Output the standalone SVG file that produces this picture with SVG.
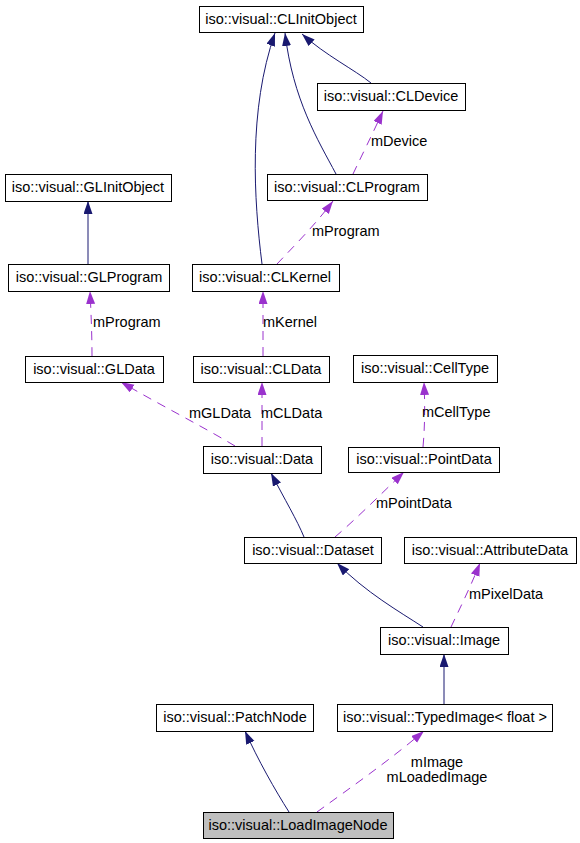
<svg xmlns="http://www.w3.org/2000/svg" width="580" height="843" viewBox="0 0 580 843">
<defs>
<marker id="ah" markerUnits="userSpaceOnUse" markerWidth="14" markerHeight="10" refX="13" refY="4.5" orient="auto" viewBox="0 0 14 10"><path d="M0,0 L13,4.5 L0,9 z" fill="#191970"/></marker>
<marker id="ap" markerUnits="userSpaceOnUse" markerWidth="14" markerHeight="10" refX="13" refY="4.5" orient="auto" viewBox="0 0 14 10"><path d="M0,0 L13,4.5 L0,9 z" fill="#9a32cd"/></marker>
</defs>
<style>
rect{fill:#fff;stroke:#000;stroke-width:1}
text{font-family:"Liberation Sans",Arial,sans-serif;font-size:14.5px;fill:#000}
.n text{text-anchor:middle}
.inh{fill:none;stroke:#191970;stroke-width:1;marker-end:url(#ah)}
.use{fill:none;stroke:#9a32cd;stroke-width:1;stroke-dasharray:9,7;marker-end:url(#ap)}
</style>
<rect x="0" y="0" width="580" height="843" style="fill:#fff;stroke:none"/>
<g id="connectors">
<path class="inh" d="M262,264 C254,200 248,110 275,33"/>
<path class="inh" d="M336,174 C318,140 293,100 285,33"/>
<path class="inh" d="M371,83 C355,70 325,55 302,34"/>
<path class="use" d="M353,174 C362,155 372,135 383,111"/>
<text x="371" y="146">mDevice</text>
<path class="use" d="M277,264 C295,245 315,225 333,201"/>
<text x="312" y="236">mProgram</text>
<path class="inh" d="M88,264 L88,201"/>
<path class="use" d="M92,356 C92,335 91,312 90,291"/>
<text x="93" y="327">mProgram</text>
<path class="use" d="M263,356 L263,291"/>
<text x="263" y="327">mKernel</text>
<path class="use" d="M235,446 C200,425 160,405 121,382"/>
<text x="189" y="418">mGLData</text>
<path class="use" d="M262,446 L262,382"/>
<text x="261" y="418">mCLData</text>
<path class="use" d="M423,447 C425,425 425,405 424,382"/>
<text x="422" y="417">mCellType</text>
<path class="inh" d="M304,537 C297,520 285,500 271,473"/>
<path class="use" d="M335,537 C355,520 380,495 404,472"/>
<text x="376" y="508">mPointData</text>
<path class="inh" d="M423,627 C400,612 365,592 337,563"/>
<path class="use" d="M451,627 C460,608 470,588 480,563"/>
<text x="469" y="599">mPixelData</text>
<path class="inh" d="M444,704 L444,654"/>
<path class="inh" d="M289,812 C275,790 258,760 245,731"/>
<path class="use" d="M317,812 C350,788 390,760 424,731"/>
<text x="437" y="767" style="text-anchor:middle">mImage</text>
<text x="437" y="782" style="text-anchor:middle">mLoadedImage</text>
</g>
<g class="n" id="CLInitObject"><rect x="199.5" y="6.5" width="164" height="26"/><text x="281" y="24">iso::visual::CLInitObject</text></g>
<g class="n" id="CLDevice"><rect x="317.5" y="83.5" width="148" height="27"/><text x="391" y="101">iso::visual::CLDevice</text></g>
<g class="n" id="CLProgram"><rect x="267.5" y="174.5" width="160" height="26"/><text x="347" y="192">iso::visual::CLProgram</text></g>
<g class="n" id="CLKernel"><rect x="192.5" y="264.5" width="147" height="27"/><text x="265" y="282">iso::visual::CLKernel</text></g>
<g class="n" id="GLInitObject"><rect x="5.5" y="174.5" width="166" height="27"/><text x="88" y="192">iso::visual::GLInitObject</text></g>
<g class="n" id="GLProgram"><rect x="8.5" y="264.5" width="161" height="27"/><text x="89" y="282">iso::visual::GLProgram</text></g>
<g class="n" id="GLData"><rect x="25.5" y="356.5" width="138" height="26"/><text x="94" y="374">iso::visual::GLData</text></g>
<g class="n" id="CLData"><rect x="193.5" y="356.5" width="136" height="26"/><text x="261" y="374">iso::visual::CLData</text></g>
<g class="n" id="Data"><rect x="203.5" y="446.5" width="118" height="27"/><text x="262" y="464">iso::visual::Data</text></g>
<g class="n" id="CellType"><rect x="353.5" y="355.5" width="144" height="27"/><text x="425" y="373">iso::visual::CellType</text></g>
<g class="n" id="PointData"><rect x="348.5" y="447.5" width="151" height="25"/><text x="424" y="464">iso::visual::PointData</text></g>
<g class="n" id="Dataset"><rect x="244.5" y="537.5" width="137" height="26"/><text x="313" y="555">iso::visual::Dataset</text></g>
<g class="n" id="AttributeData"><rect x="404.5" y="537.5" width="172" height="26"/><text x="490" y="555">iso::visual::AttributeData</text></g>
<g class="n" id="Image"><rect x="380.5" y="627.5" width="128" height="27"/><text x="444" y="645">iso::visual::Image</text></g>
<g class="n" id="PatchNode"><rect x="156.5" y="704.5" width="157" height="27"/><text x="235" y="722">iso::visual::PatchNode</text></g>
<g class="n" id="TypedImage"><rect x="337.5" y="704.5" width="215" height="27"/><text x="445" y="722">iso::visual::TypedImage&lt; float &gt;</text></g>
<g class="n" id="LoadImageNode"><rect x="203.5" y="812.5" width="190" height="26" style="fill:#bfbfbf"/><text x="298" y="830">iso::visual::LoadImageNode</text></g>
</svg>
